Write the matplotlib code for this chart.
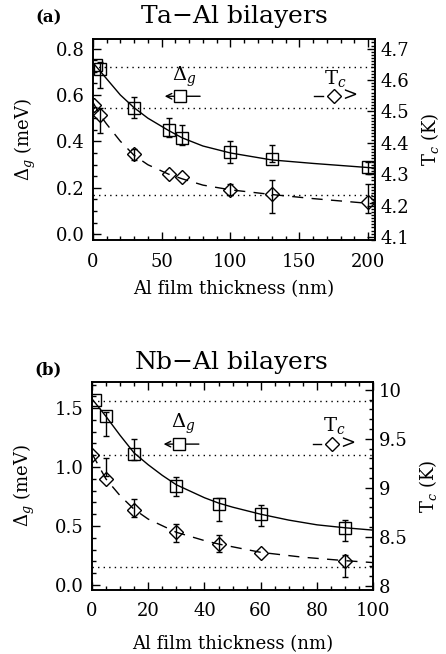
import numpy as np
import matplotlib
matplotlib.use('Agg')
import matplotlib.pyplot as plt
from matplotlib.ticker import MultipleLocator

plt.rcParams['font.family'] = 'DejaVu Serif'
plt.rcParams['mathtext.fontset'] = 'dejavuserif'

# ---- (a) Ta-Al bilayers ----
ta_gap_x = [2, 5, 30, 55, 65, 100, 130, 200]
ta_gap = [0.73, 0.71, 0.545, 0.447, 0.416, 0.354, 0.326, 0.289]
ta_gap_err_x = [5, 30, 55, 65, 100, 130, 200]
ta_gap_err_lo = [0.63, 0.50, 0.42, 0.383, 0.305, 0.31, 0.26]
ta_gap_err_hi = [0.74, 0.59, 0.50, 0.469, 0.40, 0.383, 0.31]

ta_tc_x = [1, 5, 30, 55, 65, 100, 130, 200]
ta_tc = [4.52, 4.488, 4.363, 4.302, 4.291, 4.251, 4.236, 4.211]
ta_tc_err_x = [5, 30, 100, 130, 200]
ta_tc_err_lo = [4.43, 4.344, 4.235, 4.175, 4.175]
ta_tc_err_hi = [4.51, 4.38, 4.27, 4.28, 4.27]

# fitted curves
ta_fit_x = [0, 5, 10, 20, 30, 40, 55, 65, 80, 100, 130, 160, 205]
ta_fit_gap = [0.74, 0.705, 0.67, 0.60, 0.545, 0.50, 0.447, 0.415, 0.38, 0.35, 0.32, 0.305, 0.285]
ta_fit_tc_x = [0, 5, 10, 20, 30, 40, 55, 65, 80, 100, 130, 160, 205]
ta_fit_tc = [4.53, 4.49, 4.46, 4.405, 4.36, 4.33, 4.30, 4.285, 4.265, 4.25, 4.235, 4.222, 4.205]

ta_ref_gap = [0.72, 0.17]
ta_ref_tc = [4.51]

# ---- (b) Nb-Al bilayers ----
nb_gap_x = [1, 5, 15, 30, 45, 60, 90]
nb_gap = [1.57, 1.43, 1.11, 0.84, 0.69, 0.60, 0.48]
nb_gap_err_x = [5, 15, 30, 45, 60, 90]
nb_gap_err_lo = [1.26, 1.06, 0.754, 0.54, 0.50, 0.37]
nb_gap_err_hi = [1.47, 1.235, 0.92, 0.74, 0.68, 0.55]

nb_tc_x = [0, 5, 15, 30, 45, 60, 90]
nb_tc = [9.33, 9.087, 8.773, 8.545, 8.425, 8.336, 8.255]
nb_tc_err_x = [5, 15, 30, 45, 90]
nb_tc_err_lo = [9.12, 8.70, 8.45, 8.34, 8.085]
nb_tc_err_hi = [9.30, 8.89, 8.63, 8.52, 8.31]

nb_fit_x = [0, 5, 10, 15, 20, 25, 30, 40, 45, 50, 60, 70, 80, 90, 100]
nb_fit_gap = [1.58, 1.43, 1.27, 1.12, 1.02, 0.93, 0.85, 0.74, 0.695, 0.66, 0.60, 0.55, 0.51, 0.485, 0.465]
nb_fit_tc_x = [0, 5, 10, 15, 20, 30, 40, 45, 60, 75, 90, 100]
nb_fit_tc = [9.35, 9.09, 8.92, 8.78, 8.68, 8.545, 8.46, 8.425, 8.34, 8.29, 8.255, 8.235]

nb_ref_gap = [1.56, 0.15]
nb_ref_tc = [9.33]


def errbars(ax, x, lo, hi):
    lo = np.array(lo)
    hi = np.array(hi)
    mid = (lo + hi) / 2
    ax.errorbar(x, mid, yerr=(hi - lo) / 2, fmt='none', ecolor='k',
                elinewidth=1, capsize=2.5, capthick=1)


def panel(ax, gx, g, gex, gelo, gehi, tx, t, tex, telo, tehi,
          fx, fg, ftx, ft, refg, reft, xlim, ylim, ylim2,
          xmaj, xmin, ymaj, ymin, y2maj, y2min, y2fmt, legy, xlab_y):
    ax2 = ax.twinx()
    ax.set_xlim(xlim)
    ax.set_ylim(ylim)
    ax2.set_ylim(ylim2)

    for r in refg:
        ax.axhline(r, color='k', ls=(0, (1, 3)), lw=1)
    for r in reft:
        ax2.axhline(r, color='k', ls=(0, (1, 3)), lw=1)

    ax.plot(fx, fg, 'k-', lw=1)
    ax.plot(gx, g, 's', ms=9, mfc='none', mec='k', mew=1)
    errbars(ax, gex, gelo, gehi)

    ax2.plot(ftx, ft, 'k-', lw=1, dashes=(8, 6))
    ax2.plot(tx, t, 'D', ms=7.5, mfc='none', mec='k', mew=1)
    errbars(ax2, tex, telo, tehi)

    ax.xaxis.set_major_locator(MultipleLocator(xmaj))
    ax.xaxis.set_minor_locator(MultipleLocator(xmin))
    ax.yaxis.set_major_locator(MultipleLocator(ymaj))
    ax.yaxis.set_minor_locator(MultipleLocator(ymin))
    ax2.yaxis.set_major_locator(MultipleLocator(y2maj))
    ax2.yaxis.set_minor_locator(MultipleLocator(y2min))
    ax.yaxis.set_major_formatter(matplotlib.ticker.FormatStrFormatter('%.1f'))
    ax2.yaxis.set_major_formatter(matplotlib.ticker.FormatStrFormatter(y2fmt))

    ax.xaxis.set_ticks_position('both')
    ax.tick_params(which='both', direction='in', labelsize=13, width=1)
    ax.tick_params(which='major', length=6)
    ax.tick_params(which='minor', length=3)
    ax.tick_params(axis='x', pad=9)
    ax.tick_params(axis='y', pad=6)
    ax2.tick_params(which='both', direction='in', labelsize=13, width=1, pad=4)
    ax2.tick_params(which='major', length=6)
    ax2.tick_params(which='minor', length=3)
    for a in (ax, ax2):
        for s in a.spines.values():
            s.set_linewidth(1.2)

    ax.set_xlabel('Al film thickness (nm)', fontsize=13)
    ax.set_ylabel(r'$\Delta_g$ (meV)', fontsize=13)
    ax2.set_ylabel(r'T$_c$ (K)', fontsize=13, rotation=90)
    ax.xaxis.set_label_coords(0.5, xlab_y)
    ax.yaxis.set_label_coords(-0.195, 0.5)
    ax2.yaxis.set_label_coords(1.155, 0.5)

    # in-plot legend
    ax.annotate('', xy=(0.245, legy), xytext=(0.39, legy), xycoords='axes fraction',
                arrowprops=dict(arrowstyle='->', lw=1, color='k'))
    ax.plot([0.31], [legy], 's', ms=9, mfc='white', mec='k', mew=1,
            transform=ax.transAxes, clip_on=False, zorder=5)
    ax.text(0.325, legy + 0.095, r'$\Delta_g$', transform=ax.transAxes,
            ha='center', va='center', fontsize=14)
    ax.plot([0.785, 0.815], [legy, legy], 'k-', lw=1, transform=ax.transAxes)
    ax.plot([0.855], [legy], 'D', ms=7.5, mfc='none', mec='k', mew=1,
            transform=ax.transAxes)
    ax.text(0.91, legy, '>', transform=ax.transAxes, ha='center', va='center', fontsize=13)
    ax.text(0.86, legy + 0.09, r'T$_c$', transform=ax.transAxes,
            ha='center', va='center', fontsize=14)
    return ax2


fig = plt.figure(figsize=(4.46, 6.54), dpi=100)
ax_a = fig.add_axes([0.208, 0.633, 0.633, 0.307])
ax_b = fig.add_axes([0.206, 0.098, 0.631, 0.3185])

panel(ax_a, ta_gap_x, ta_gap, ta_gap_err_x, ta_gap_err_lo, ta_gap_err_hi,
      ta_tc_x, ta_tc, ta_tc_err_x, ta_tc_err_lo, ta_tc_err_hi,
      ta_fit_x, ta_fit_gap, ta_fit_tc_x, ta_fit_tc, ta_ref_gap, ta_ref_tc,
      (0, 205), (-0.025, 0.84), (4.09, 4.73),
      50, 10, 0.2, 0.05, 0.1, 0.01, '%.1f', 0.716, -0.2)

panel(ax_b, nb_gap_x, nb_gap, nb_gap_err_x, nb_gap_err_lo, nb_gap_err_hi,
      nb_tc_x, nb_tc, nb_tc_err_x, nb_tc_err_lo, nb_tc_err_hi,
      nb_fit_x, nb_fit_gap, nb_fit_tc_x, nb_fit_tc, nb_ref_gap, nb_ref_tc,
      (0, 100), (-0.042, 1.725), (7.956, 10.085),
      20, 5, 0.5, 0.1, 0.5, 0.1, '%g', 0.70, -0.215)

fig.text(0.108, 0.972, '(a)', fontsize=12, fontweight='bold', ha='center', va='center')
fig.text(0.524, 0.975, 'Ta$-$Al bilayers', fontsize=18, ha='center', va='center')
fig.text(0.108, 0.434, '(b)', fontsize=12, fontweight='bold', ha='center', va='center')
fig.text(0.518, 0.445, 'Nb$-$Al bilayers', fontsize=18, ha='center', va='center')

fig.savefig('out.png', dpi=100)
